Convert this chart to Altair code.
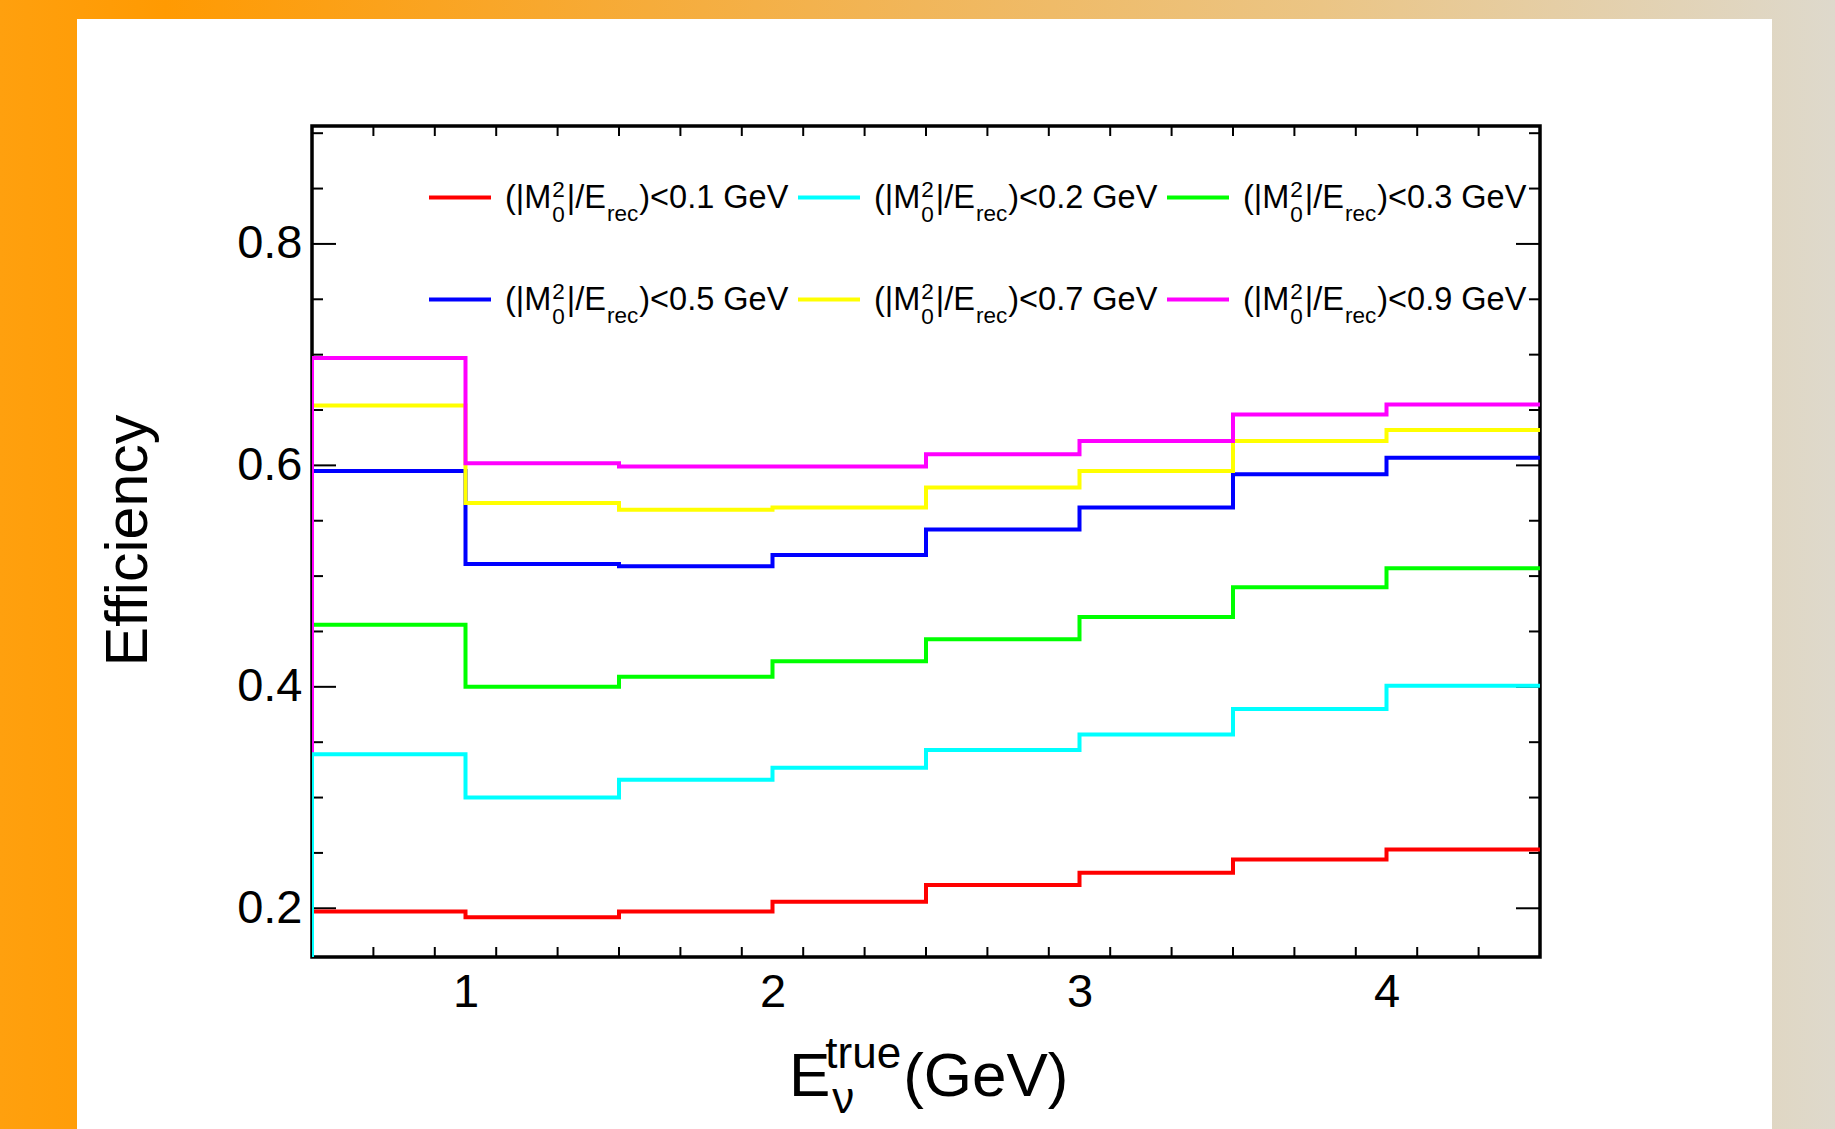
import altair as alt
import pandas as pd

# ---------------- data ----------------
bin_edges = [0.5, 1.0, 1.5, 2.0, 2.5, 3.0, 3.5, 4.0, 4.5]
cut_labels = ["0.1", "0.2", "0.3", "0.5", "0.7", "0.9"]
series_colors = ["#FF0000", "#00FFFF", "#00FF00", "#0000FF", "#FFFF00", "#FF00FF"]

eff_cut01 = [0.197, 0.192, 0.197, 0.206, 0.221, 0.232, 0.244, 0.253]
eff_cut02 = [0.339, 0.300, 0.316, 0.327, 0.343, 0.357, 0.380, 0.401]
eff_cut03 = [0.456, 0.400, 0.409, 0.423, 0.443, 0.463, 0.490, 0.507]
eff_cut05 = [0.595, 0.511, 0.509, 0.519, 0.542, 0.562, 0.592, 0.607]
eff_cut07 = [0.654, 0.566, 0.560, 0.562, 0.580, 0.595, 0.622, 0.632]
eff_cut09 = [0.697, 0.602, 0.599, 0.599, 0.610, 0.622, 0.646, 0.655]
series_values = [eff_cut01, eff_cut02, eff_cut03, eff_cut05, eff_cut07, eff_cut09]

x_tick_labels = [1, 2, 3, 4]
y_tick_labels = [0.2, 0.4, 0.6, 0.8]
x_minor_step = 0.2
y_minor_step = 0.05
x_domain = [0.5, 4.5]
y_domain = [0.156, 0.9065]

# ---------------- layout ----------------
W, H = 1228, 831
PAD = {"left": 312, "top": 126, "right": 295, "bottom": 172}
FONT = "Liberation Sans"

xs = alt.Scale(domain=x_domain, nice=False, zero=False)
ys = alt.Scale(domain=y_domain, nice=False, zero=False)
one = pd.DataFrame({"k": [0]})

# Arial / Liberation Sans advance widths (per 1000 em)
AW = {'(': 333, ')': 333, '|': 260, 'M': 833, '/': 278, 'E': 667, '<': 584, '.': 278,
      ' ': 278, 'G': 778, 'e': 556, 'V': 667, 'r': 333, 'c': 500, 't': 278, 'u': 556,
      'ν': 500}
for d in "0123456789":
    AW[d] = 556


def tw(s, fs):
    return sum(AW.get(ch, 556) for ch in s) / 1000.0 * fs


def text_piece(s, x, y, fs):
    return alt.Chart(one).mark_text(
        align="left", baseline="alphabetic", font=FONT, fontSize=fs, color="black"
    ).encode(x=alt.value(x), y=alt.value(y), text=alt.value(s))


# axes (labels + y title); the same definition is given to every layer using a scale
x_axis = alt.Axis(values=x_tick_labels, format="d", ticks=False, domain=False, grid=False,
                  labelFont=FONT, labelFontSize=47, labelColor="black", labelPadding=12,
                  labelFlush=False, labelOverlap=False, title=None, zindex=2)
y_axis = alt.Axis(values=y_tick_labels, format=".1f", ticks=False, domain=False, grid=False,
                  labelFont=FONT, labelFontSize=47, labelColor="black", labelPadding=10,
                  labelFlush=False, labelOverlap=False,
                  title="Efficiency", titleFont=FONT, titleFontSize=59,
                  titleFontWeight="normal", titleColor="black", titleAngle=270,
                  titleAlign="center", titleBaseline="alphabetic",
                  titleX=-166, titleY=414, zindex=2)

layers = []

# background gradient + white panel
gradient = {
    "gradient": "linear", "x1": 0, "y1": 0, "x2": 1, "y2": 0,
    "stops": [
        {"offset": 0.0, "color": "#FFA00E"},
        {"offset": 0.09, "color": "#FF9A02"},
        {"offset": 0.5, "color": "#F1B65A"},
        {"offset": 0.72, "color": "#EBC585"},
        {"offset": 1.0, "color": "#DED9CC"},
    ],
}
layers.append(
    alt.Chart(one).mark_rect(fill=gradient, strokeWidth=0).encode(
        x=alt.value(-PAD["left"]), x2=alt.value(W + PAD["right"]),
        y=alt.value(-PAD["top"]), y2=alt.value(H + PAD["bottom"]))
)
layers.append(
    alt.Chart(one).mark_rect(fill="#FFFFFF", strokeWidth=0).encode(
        x=alt.value(77 - PAD["left"]), x2=alt.value(1772 - PAD["left"]),
        y=alt.value(19 - PAD["top"]), y2=alt.value(H + PAD["bottom"]))
)

# frame
layers.append(
    alt.Chart(one).mark_rect(fill="white", fillOpacity=0, stroke="black", strokeWidth=3.5).encode(
        x=alt.value(0), x2=alt.value(W), y=alt.value(0), y2=alt.value(H))
)

# inward ticks (ROOT style, mirrored on all four sides)
n_x = int(round((x_domain[1] - x_domain[0]) / x_minor_step))
x_tick_pos = [round(x_domain[0] + x_minor_step * i, 2) for i in range(1, n_x + 1)]
x_tick_pos = [t for t in x_tick_pos if x_domain[0] < t < x_domain[1] - 1e-9]
x_major = [t for t in x_tick_pos if abs(t - round(t)) < 1e-9]
x_minor = [t for t in x_tick_pos if t not in x_major]
y_tick_pos = [round(0.2 + y_minor_step * i, 3) for i in range(0, 15)]
y_tick_pos = [t for t in y_tick_pos if y_domain[0] < t < y_domain[1]]
y_major = [t for t in y_tick_pos if any(abs(t - m) < 1e-9 for m in y_tick_labels)]
y_minor = [t for t in y_tick_pos if t not in y_major]

for vals, ln in ((x_major, 22), (x_minor, 10)):
    d = pd.DataFrame({"t": vals})
    layers.append(alt.Chart(d).mark_rule(color="black", strokeWidth=2).encode(
        x=alt.X("t:Q", scale=xs, axis=x_axis), y=alt.value(H), y2=alt.value(H - ln)))
    layers.append(alt.Chart(d).mark_rule(color="black", strokeWidth=2).encode(
        x=alt.X("t:Q", scale=xs, axis=x_axis), y=alt.value(0), y2=alt.value(ln)))
for vals, ln in ((y_major, 24), (y_minor, 11)):
    d = pd.DataFrame({"t": vals})
    layers.append(alt.Chart(d).mark_rule(color="black", strokeWidth=2).encode(
        y=alt.Y("t:Q", scale=ys, axis=y_axis), x=alt.value(0), x2=alt.value(ln)))
    layers.append(alt.Chart(d).mark_rule(color="black", strokeWidth=2).encode(
        y=alt.Y("t:Q", scale=ys, axis=y_axis), x=alt.value(W), x2=alt.value(W - ln)))

# histogram step lines; drawing order matches the reference overlap
draw_order = [0, 2, 3, 4, 5, 1]
for si in draw_order:
    vals = series_values[si]
    rows = [{"x": bin_edges[0], "y": 0.0, "i": 0}]
    for k, v in enumerate(vals):
        rows.append({"x": bin_edges[k], "y": v, "i": k + 1})
    rows.append({"x": bin_edges[-1], "y": vals[-1], "i": len(vals) + 1})
    d = pd.DataFrame(rows)
    layers.append(
        alt.Chart(d).mark_line(interpolate="step-after", strokeWidth=4, clip=True,
                               color=series_colors[si]).encode(
            x=alt.X("x:Q", scale=xs, axis=x_axis),
            y=alt.Y("y:Q", scale=ys, axis=y_axis),
            order=alt.Order("i:Q"),
        )
    )

# legend (3 columns x 2 rows) with sub/superscripts
S, s = 32.5, 22.5
line_x = [117, 486, 855]
row_y = [71.5, 173.5]
for idx, cut in enumerate(cut_labels):
    col, row = idx % 3, idx // 3
    lx, ly = line_x[col], row_y[row]
    layers.append(alt.Chart(one).mark_rule(color=series_colors[idx], strokeWidth=4).encode(
        x=alt.value(lx), x2=alt.value(lx + 62), y=alt.value(ly)))
    x0 = lx + 76
    b = ly + 10.5
    layers.append(text_piece("(|M", x0, b, S))
    x1 = x0 + tw("(|M", S) + 1
    layers.append(text_piece("2", x1, b - 11, s))
    layers.append(text_piece("0", x1, b + 14, s))
    x2 = x1 + tw("2", s) + 2
    layers.append(text_piece("|/E", x2, b, S))
    x3 = x2 + tw("|/E", S) + 1
    layers.append(text_piece("rec", x3, b + 13, s))
    x4 = x3 + tw("rec", s) + 1
    layers.append(text_piece(")<" + cut + " GeV", x4, b, S))

# x-axis title  E_nu^true(GeV)
F, f = 62, 44
xe = 477
bt = 970
layers.append(text_piece("E", xe, bt, F))
xt = xe + tw("E", F) - 5
layers.append(text_piece("true", xt, bt - 28, f))
layers.append(text_piece("ν", xe + tw("E", F) + 2, bt + 17, f))
layers.append(text_piece("(GeV)", xt + tw("true", f) + 2, bt, F))

chart = alt.layer(*layers).properties(
    width=W, height=H,
    autosize=alt.AutoSizeParams(type="none"),
    padding=PAD,
    background="white",
).configure_view(strokeWidth=0)

chart.save("out.html", embed_options={"renderer": "svg", "actions": False})
